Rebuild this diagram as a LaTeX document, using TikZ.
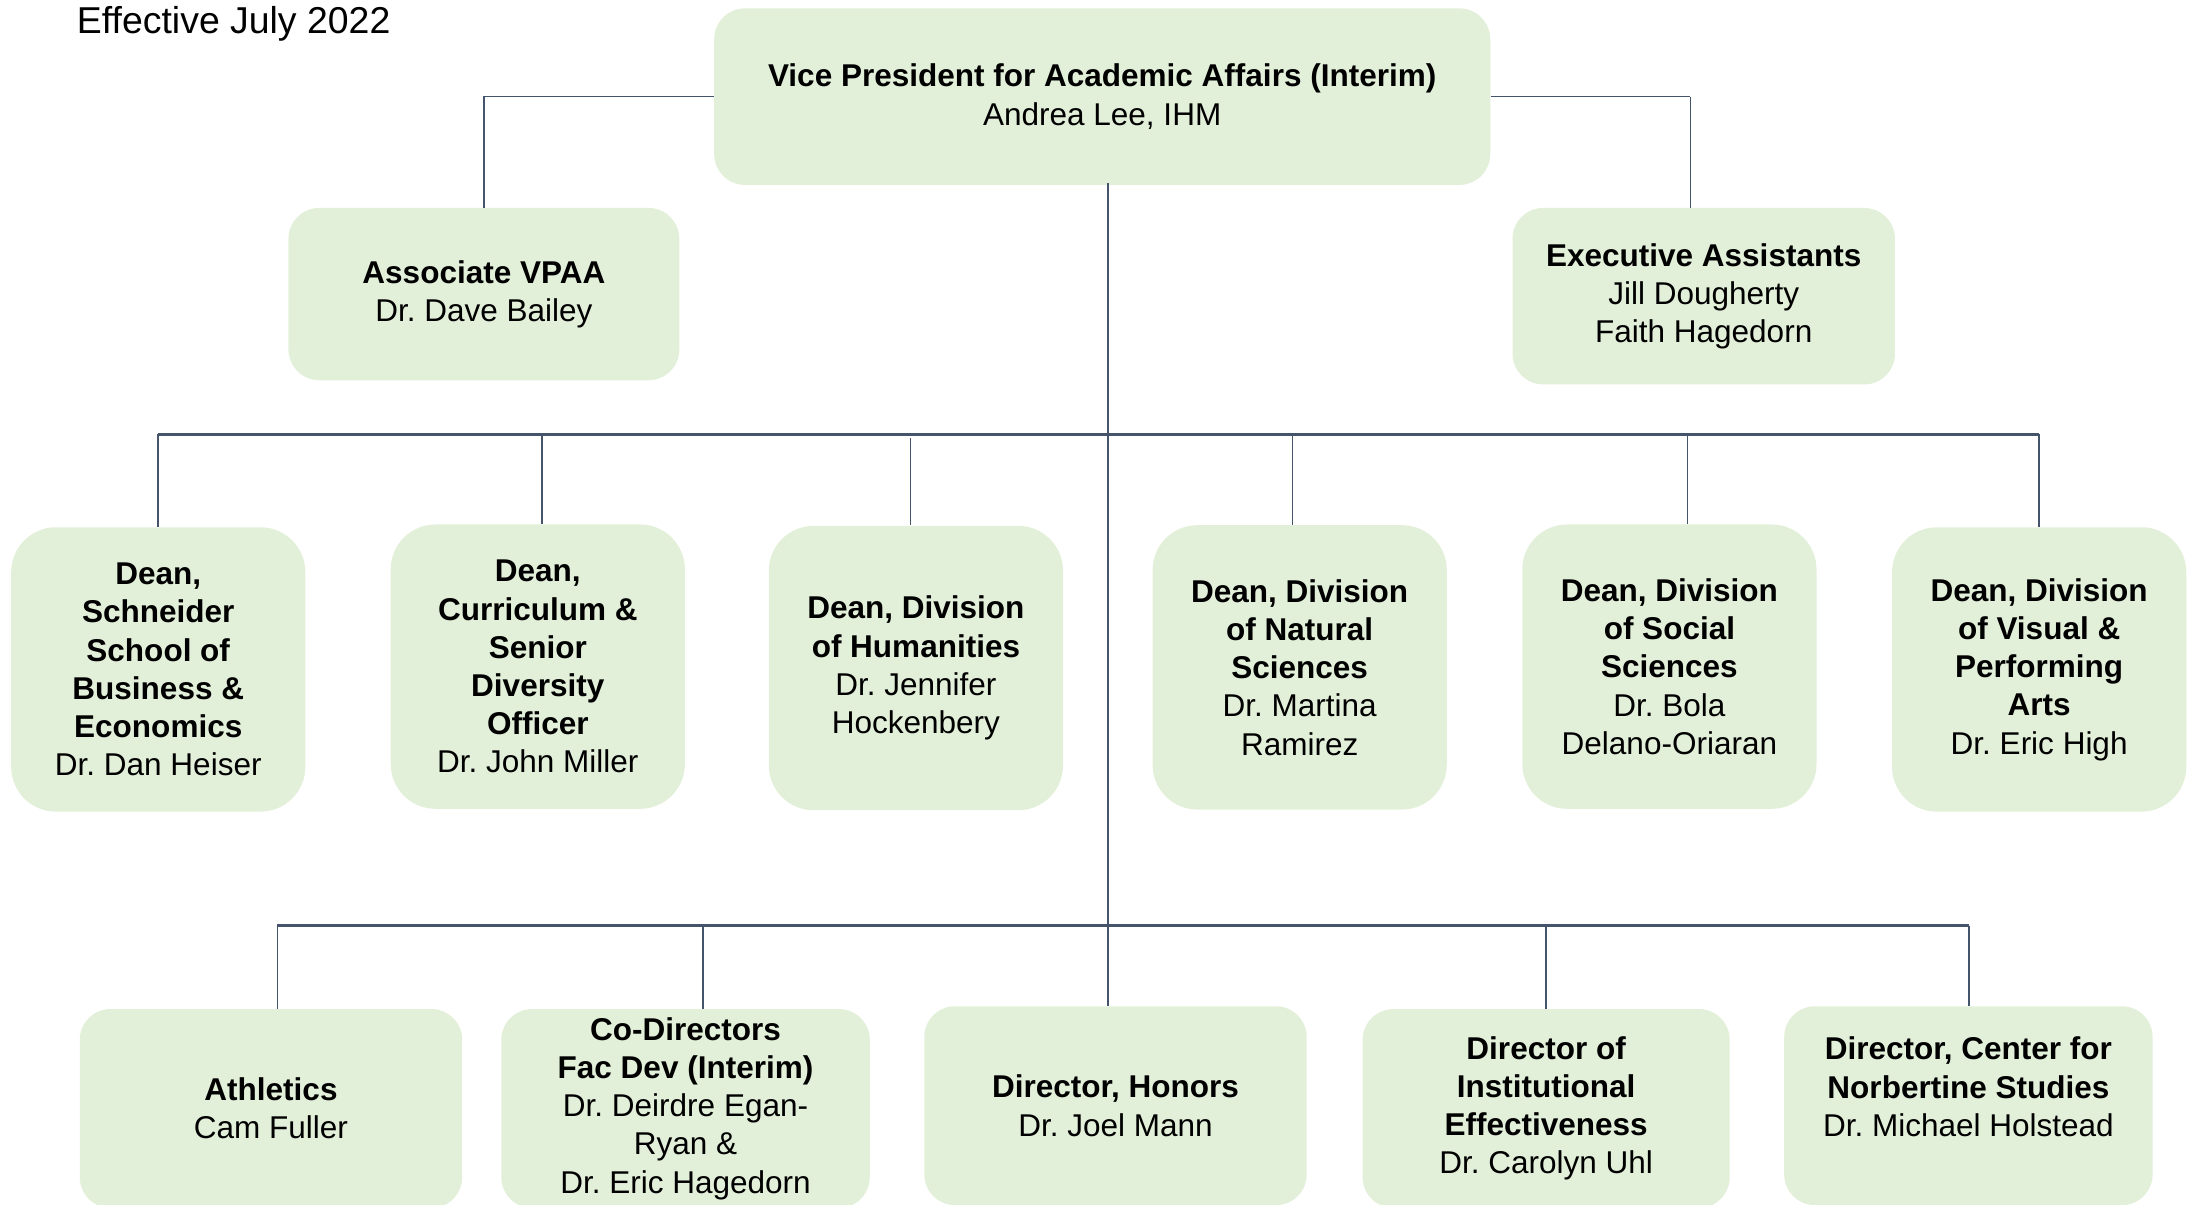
\documentclass[tikz,border=0pt]{standalone}
\usepackage{fontspec}
\setmainfont{Liberation Sans}
\frenchspacing
\definecolor{boxgreen}{HTML}{E2EFD9}
\definecolor{linkblue}{HTML}{44546A}
\begin{document}
\begin{tikzpicture}[x=0.025cm,y=-0.025cm,
  box/.style={rectangle,rounded corners=0.55cm,fill=boxgreen,align=center,inner sep=0pt,
    font=\fontsize{16}{19.4}\selectfont},
  dean node/.style={box,rounded corners=0.8cm,minimum width=5.25cm,minimum height=5.075cm},
  dir node/.style={box,minimum height=3.55cm},
  link/.style={draw=linkblue,line width=0.8pt},
  bus/.style={draw=linkblue,line width=1.4pt},
  elbow/.style={to path={-| (\tikztotarget)}}]

  \useasboundingbox (0,0) rectangle (1568,859.7);

  \node[anchor=west,font=\fontsize{19}{23}\selectfont] (0) at (50,17) {Effective July 2022};

  % top level
  \node[box,minimum width=13.85cm,minimum height=3.15cm] (1) at (787,69)
    {\textbf{Vice President for Academic Affairs (Interim)}\\Andrea Lee, IHM};
  \node[box,minimum width=6.975cm,minimum height=3.075cm] (2) at (345.5,210)
    {\textbf{Associate VPAA}\\Dr. Dave Bailey};
  \node[box,minimum width=6.825cm,minimum height=3.15cm] (3) at (1216.5,211.5)
    {\textbf{Executive Assistants}\\Jill Dougherty\\Faith Hagedorn};

  % deans
  \node[dean node] (21) at (113,478) {\textbf{Dean,}\\\textbf{Schneider}\\\textbf{School of}\\\textbf{Business \&}\\\textbf{Economics}\\Dr. Dan Heiser};
  \node[dean node] (22) at (384,476) {\textbf{Dean,}\\\textbf{Curriculum \&}\\\textbf{Senior}\\\textbf{Diversity}\\\textbf{Officer}\\Dr. John Miller};
  \node[dean node] (23) at (654,477) {\textbf{Dean, Division}\\\textbf{of Humanities}\\Dr. Jennifer\\Hockenbery};
  \node[dean node] (24) at (928,476.5) {\textbf{Dean, Division}\\\textbf{of Natural}\\\textbf{Sciences}\\Dr. Martina\\Ramirez};
  \node[dean node] (25) at (1192,476) {\textbf{Dean, Division}\\\textbf{of Social}\\\textbf{Sciences}\\Dr. Bola\\Delano-Oriaran};
  \node[dean node] (26) at (1456,478) {\textbf{Dean, Division}\\\textbf{of Visual \&}\\\textbf{Performing}\\\textbf{Arts}\\Dr. Eric High};

  % directors
  \node[dir node,minimum width=6.825cm] (31) at (193.5,791.5) {\textbf{Athletics}\\Cam Fuller};
  \node[dir node,minimum width=6.575cm] (32) at (489.5,791.5) {\textbf{Co-Directors}\\\textbf{Fac Dev (Interim)}\\Dr. Deirdre Egan-\\Ryan \&\\Dr. Eric Hagedorn};
  \node[dir node,minimum width=6.825cm] (33) at (796.5,789.5) {\textbf{Director, Honors}\\Dr. Joel Mann};
  \node[dir node,minimum width=6.55cm] (34) at (1104,791.5) {\textbf{Director of}\\\textbf{Institutional}\\\textbf{Effectiveness}\\Dr. Carolyn Uhl};
  \node[dir node,minimum width=6.575cm] (35) at (1405.5,789.5) {\textbf{Director, Center for}\\\textbf{Norbertine Studies}\\Dr. Michael Holstead\\\mbox{}};

  % bus points
  \coordinate (t) at (791,131);
  \coordinate (e) at (1207,69);
  \coordinate (d21) at (113,310);
  \coordinate (d22) at (387,310);
  \coordinate (d23) at (650,313);
  \coordinate (d24) at (923,310);
  \coordinate (d25) at (1205,310);
  \coordinate (d26) at (1456,310);
  \coordinate (d31) at (198,661);
  \coordinate (d32) at (502,661);
  \coordinate (d34) at (1104,661);
  \coordinate (d35) at (1406,661);

  \path[link]
   (1.west) edge[elbow] (2.north)
   (1.east) edge (e)
   (e) edge (3.north -| e)
   (t) edge (33.north -| t)
   (d21) edge (21.north -| d21)
   (d22) edge (22.north -| d22)
   (d23) edge (23.north -| d23)
   (d24) edge (24.north -| d24)
   (d25) edge (25.north -| d25)
   (d26) edge (26.north -| d26)
   (d31) edge (31.north -| d31)
   (d32) edge (32.north -| d32)
   (d34) edge (34.north -| d34)
   (d35) edge (35.north -| d35);
  \path[bus]
   (d21) edge (d26)
   (d31) edge (d35);
\end{tikzpicture}
\end{document}
